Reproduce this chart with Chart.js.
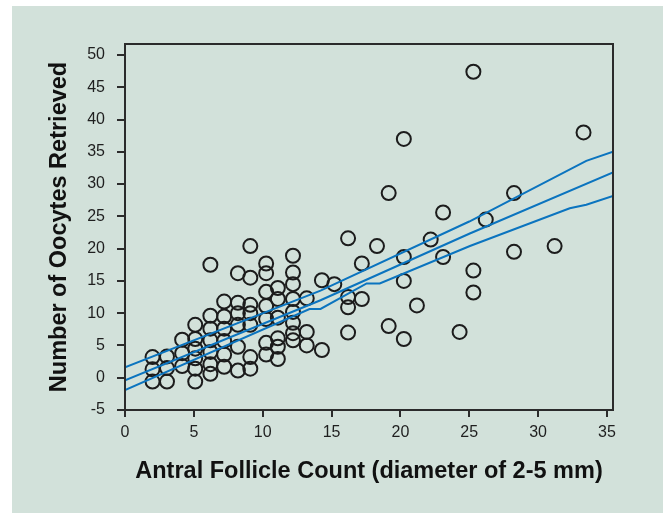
<!DOCTYPE html>
<html>
<head>
<meta charset="utf-8">
<script src="https://cdn.jsdelivr.net/npm/chart.js@4.4.1/dist/chart.umd.min.js"></script>
<style>
    body { margin: 0; background: #ffffff; }
    #ChartCanvas { position: absolute; left: 12px; top: 6px; background: #d2e1da; }
</style>
</head>
<body>
<canvas id="ChartCanvas" width="651" height="507"></canvas>
<script>
// antral follicle count (x) and oocytes retrieved (y), read column by column
var afcValues = [
    2, 2, 2,
    3.05, 3.05, 3.05,
    4.15, 4.15, 4.15,
    5.1, 5.1, 5.1, 5.1, 5.1, 5.1,
    6.2, 6.2, 6.2, 6.2, 6.2, 6.2, 6.2,
    7.2, 7.2, 7.2, 7.2, 7.2, 7.2,
    8.2, 8.2, 8.2, 8.2, 8.2, 8.2,
    9.1, 9.1, 9.1, 9.1, 9.1, 9.1, 9.1,
    10.25, 10.25, 10.25, 10.25, 10.25, 10.25, 10.25,
    11.1, 11.1, 11.1, 11.1, 11.1, 11.1,
    12.2, 12.2, 12.2, 12.2, 12.2, 12.2, 12.2, 12.2,
    13.2, 13.2, 13.2,
    14.3, 14.3,
    15.2,
    16.2, 16.2, 16.2, 16.2,
    17.2, 17.2,
    18.3,
    19.15, 19.15,
    20.25, 20.25, 20.25, 20.25,
    21.2,
    22.2,
    23.1, 23.1,
    24.3,
    25.3, 25.3, 25.3,
    26.2,
    28.25, 28.25,
    31.2,
    33.3
];
var oocyteValues = [
    3.2, 1.3, -0.6,
    3.3, 1.5, -0.6,
    5.9, 3.8, 1.8,
    8.2, 6.0, 4.5, 3.0, 1.4, -0.6,
    17.5, 9.6, 7.6, 5.8, 4.0, 2.1, 0.6,
    11.8, 9.5, 7.6, 5.7, 3.6, 1.7,
    16.2, 11.6, 10.0, 8.2, 4.8, 1.1,
    20.4, 15.5, 11.3, 10.0, 8.2, 3.2, 1.4,
    17.7, 16.2, 13.3, 11.1, 9.1, 5.4, 3.6,
    13.9, 12.2, 9.3, 6.1, 4.8, 2.9,
    18.9, 16.3, 14.5, 12.2, 10.2, 8.5, 6.9, 5.8,
    12.3, 7.1, 5.0,
    15.1, 4.3,
    14.5,
    21.6, 12.5, 10.9, 7.0,
    17.7, 12.2,
    20.4,
    28.6, 8.0,
    37.0, 18.7, 15.0, 6.0,
    11.2,
    21.4,
    25.6, 18.7,
    7.1,
    47.4, 16.6, 13.2,
    24.5,
    28.6, 19.5,
    20.4,
    38.0
];

// regression line and its two bands
var fitX = [0, 14.2, 25, 35.44];
var fitY = [-0.4, 12.0, 22.3, 31.8];
var upperX = [0, 14.2, 25, 33.5, 35.44];
var upperY = [1.6, 13.5, 24.2, 33.6, 35.0];
var lowerX = [0, 13.4, 14.2, 17.55, 18.5, 25.05, 32.3, 33.5, 35.44];
var lowerY = [-1.9, 10.65, 10.65, 14.6, 14.6, 20.4, 26.25, 26.8, 28.15];

var xTicks = [0, 5, 10, 15, 20, 25, 30, 35];
var yTicks = [-5, 0, 5, 10, 15, 20, 25, 30, 35, 40, 45, 50];

var xTitle = "Antral Follicle Count (diameter of 2-5 mm)";
var yTitle = "Number of Oocytes Retrieved";

function toPoints(xs, ys) {
    return xs.map((x, i) => ({ x: x, y: ys[i] }));
}

function lineDataset(xs, ys) {
    return {
        type: "line",
        data: toPoints(xs, ys),
        borderColor: "#0b74bf",
        borderWidth: 2,
        pointRadius: 0,
        fill: false,
        tension: 0,
        order: 0
    };
}

// box round the plot area
var frameBox = {
    id: "frameBox",
    afterDraw(chart) {
        var a = chart.chartArea;
        var ctx = chart.ctx;
        ctx.save();
        ctx.strokeStyle = "#2b2b2b";
        ctx.lineWidth = 2;
        ctx.strokeRect(a.left, a.top, a.right - a.left, a.bottom - a.top);
        ctx.restore();
    }
};

var tickFont = { family: "'Liberation Sans', Arial, sans-serif", size: 16 };
var titleFont = { family: "'Liberation Sans', Arial, sans-serif", size: 23.5, weight: "bold" };

var chartContext = document.getElementById("ChartCanvas").getContext("2d");

var createdChart = new Chart(chartContext, {
    type: "scatter",
    data: {
        datasets: [
            lineDataset(upperX, upperY),
            lineDataset(fitX, fitY),
            lineDataset(lowerX, lowerY),
            {
                data: toPoints(afcValues, oocyteValues),
                pointStyle: "circle",
                pointRadius: 7,
                pointBorderWidth: 2,
                pointBorderColor: "#1c1c1c",
                pointBackgroundColor: "rgba(0,0,0,0)",
                order: 1
            }
        ]
    },
    options: {
        responsive: false,
        animation: false,
        devicePixelRatio: 1,
        layout: { padding: { left: 0, top: 38, right: 50, bottom: 0 } },
        plugins: {
            legend: { display: false },
            tooltip: { enabled: false }
        },
        scales: {
            x: {
                type: "linear",
                min: 0,
                max: 35.44,
                afterBuildTicks: scale => { scale.ticks = xTicks.map(v => ({ value: v })); },
                afterFit: scale => { scale.height = 103; },
                border: { display: false },
                grid: { drawOnChartArea: false, drawTicks: true, tickLength: 7, color: "#2b2b2b", lineWidth: 2 },
                ticks: { font: tickFont, color: "#1f1f1f", padding: 6, maxRotation: 0 },
                title: { display: true, text: xTitle, font: titleFont, color: "#111", padding: { top: 0, bottom: 27 } }
            },
            y: {
                type: "linear",
                min: -5,
                max: 51.7,
                afterBuildTicks: scale => { scale.ticks = yTicks.map(v => ({ value: v })); },
                afterFit: scale => { scale.width = 113; },
                border: { display: false },
                grid: { drawOnChartArea: false, drawTicks: true, tickLength: 8, color: "#2b2b2b", lineWidth: 2 },
                ticks: { font: tickFont, color: "#1f1f1f", padding: 12 },
                title: { display: true, text: yTitle, font: titleFont, color: "#111", padding: { top: 33, bottom: 0 } }
            }
        }
    },
    plugins: [frameBox]
});
</script>
</body>
</html>
